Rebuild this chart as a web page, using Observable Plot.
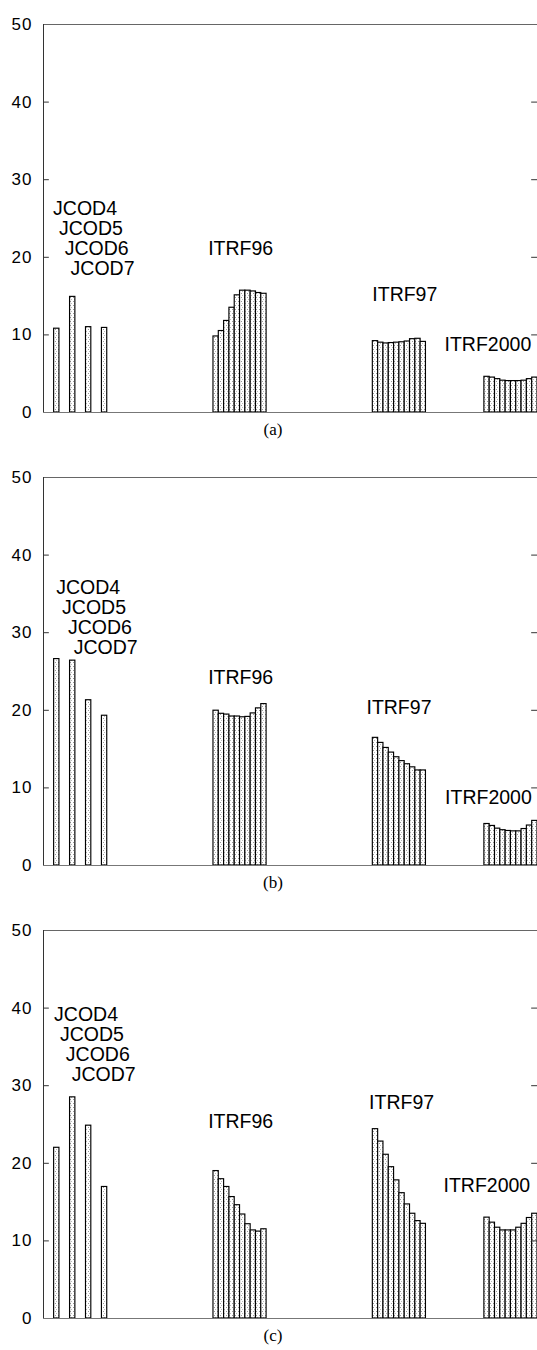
<!DOCTYPE html>
<html>
<head>
<meta charset="utf-8">
<script src="https://cdn.jsdelivr.net/npm/d3@7"></script>
<script src="https://cdn.jsdelivr.net/npm/@observablehq/plot@0.6"></script>
<style>
  html, body { margin: 0; padding: 0; background: #fff; }
  .panel { width: 537px; height: 453px; position: relative; }
  .panel svg { display: block; }
  .cap { width: 537px; height: 24px; line-height: 24px; text-align: center; padding-left: 9px; box-sizing: border-box;
         font-family: "Liberation Serif", "Times New Roman", serif; font-size: 17px; color: #000; }
</style>
</head>
<body>
<div id="root"></div>
<script>
// ---- data ----
const jcodNames = ["JCOD4", "JCOD5", "JCOD6", "JCOD7"];
const frameNames = ["ITRF96", "ITRF97", "ITRF2000"];
const panelNames = ["(a)", "(b)", "(c)"];
const yTicks = [0, 10, 20, 30, 40, 50];

const jcodA     = [10.8, 14.9, 11.0, 10.9];
const itrf96A   = [9.8, 10.5, 11.8, 13.5, 15.1, 15.7, 15.7, 15.6, 15.4, 15.3];
const itrf97A   = [9.2, 9.0, 8.9, 8.95, 9.0, 9.05, 9.15, 9.45, 9.5, 9.1];
const itrf2000A = [4.6, 4.5, 4.3, 4.1, 4.05, 4.05, 4.05, 4.1, 4.3, 4.5];

const jcodB     = [26.6, 26.4, 21.3, 19.3];
const itrf96B   = [19.95, 19.55, 19.45, 19.2, 19.2, 19.1, 19.15, 19.6, 20.25, 20.8];
const itrf97B   = [16.45, 15.8, 15.15, 14.55, 13.95, 13.45, 13.05, 12.65, 12.25, 12.25];
const itrf2000B = [5.35, 5.1, 4.75, 4.55, 4.45, 4.4, 4.4, 4.7, 5.15, 5.75];

const jcodC     = [22.0, 28.5, 24.85, 16.95];
const itrf96C   = [19.0, 17.95, 16.95, 15.65, 14.6, 13.4, 12.15, 11.35, 11.2, 11.5];
const itrf97C   = [24.4, 22.8, 21.1, 19.5, 17.8, 16.15, 14.7, 13.5, 12.55, 12.2];
const itrf2000C = [13.0, 12.35, 11.7, 11.35, 11.35, 11.35, 11.7, 12.2, 12.95, 13.5];

// ---- layout (slot positions on the x axis, label placement) ----
const jcodSlots = [2, 5, 8, 11];
const groupStart = [32, 62, 83];
const labelPlace = [
  { jx: 1.8, jy: 26.3, fx: [31.0, 61.9, 75.5], fy: [21.1, 15.2, 8.7] },
  { jx: 2.4, jy: 35.8, fx: [31.0, 60.8, 75.6], fy: [24.2, 20.3, 8.75] },
  { jx: 2.0, jy: 39.1, fx: [31.0, 61.3, 75.3], fy: [25.3, 27.8, 17.1] }
];

const font = '"Liberation Sans", Arial, Helvetica, sans-serif';

function makePanel(idx, jcod, groups) {
  const bars = [];
  jcod.forEach((v, i) => bars.push({ s: jcodSlots[i], v }));
  groups.forEach((arr, g) => arr.forEach((v, i) => bars.push({ s: groupStart[g] + i, v })));
  const lp = labelPlace[idx];
  const jLabels = jcodNames.map((t, i) => ({ t, x: lp.jx + i * 1.1, y: lp.jy - i * 2.58 }));
  const fLabels = frameNames.map((t, i) => ({ t, x: lp.fx[i], y: lp.fy[i] }));
  const pid = "stip" + idx;

  const svg = Plot.plot({
    width: 537, height: 418,
    marginLeft: 43, marginRight: 0, marginTop: 24, marginBottom: 6,
    style: { fontFamily: font, background: "#fff", overflow: "visible" },
    x: { domain: [0, 93], axis: null },
    y: { domain: [0, 50], axis: null },
    marks: [
      Plot.rectY(bars, { x1: "s", x2: d => d.s + 1, y: "v", fill: `url(#${pid})`, stroke: "#000", strokeWidth: 1.15 }),
      Plot.ruleY([0], { stroke: "#777", strokeWidth: 1.2 }),
      Plot.ruleY([50], { stroke: "#666", strokeWidth: 1.2 }),
      Plot.ruleX([0], { stroke: "#333", strokeWidth: 1 }),
      Plot.ruleY([10, 20, 30, 40], { x1: 0, x2: 1.1, stroke: "#333" }),
      Plot.ruleY([10, 20, 30, 40], { x1: 91.9, x2: 93, stroke: "#333" }),
      Plot.axisY(yTicks, { tickSize: 0, tickPadding: 11, fontSize: 17, label: null, fill: "#000", fontFamily: font }),
      Plot.text(jLabels, { x: "x", y: "y", text: "t", textAnchor: "start", fontSize: 19.5, fill: "#000", fontFamily: font }),
      Plot.text(fLabels, { x: "x", y: "y", text: "t", textAnchor: "start", fontSize: 19.5, fill: "#000", fontFamily: font })
    ]
  });
  d3.select(svg).insert("defs", ":first-child").html(
    `<pattern id="${pid}" width="3" height="4" patternUnits="userSpaceOnUse">
       <rect width="3" height="4" fill="#fff"/>
       <rect x="1" y="1" width="1" height="1" fill="#999"/>
       <rect x="2" y="3" width="1" height="1" fill="#bbb"/>
     </pattern>`);
  d3.select(svg).selectAll("g[aria-label='y-axis tick label'] text").style("letter-spacing", "1px");
  const div = document.createElement("div");
  div.className = "panel";
  div.appendChild(svg);
  const cap = document.createElement("div");
  cap.className = "cap";
  cap.textContent = panelNames[idx];
  div.appendChild(cap);
  return div;
}

const root = document.getElementById("root");
root.appendChild(makePanel(0, jcodA, [itrf96A, itrf97A, itrf2000A]));
root.appendChild(makePanel(1, jcodB, [itrf96B, itrf97B, itrf2000B]));
root.appendChild(makePanel(2, jcodC, [itrf96C, itrf97C, itrf2000C]));
</script>
</body>
</html>
